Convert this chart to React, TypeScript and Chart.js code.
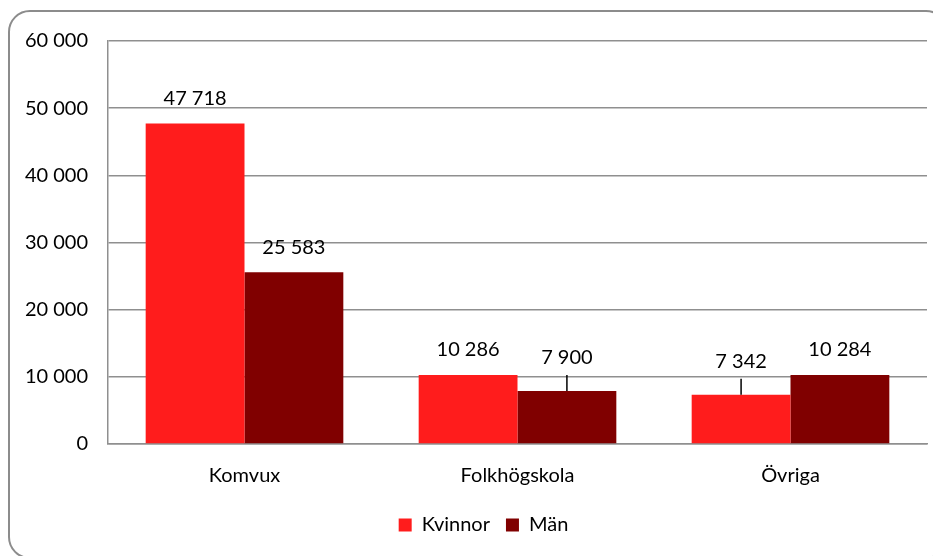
import React, { useEffect, useRef } from "react";
import { Chart, registerables } from "chart.js";

Chart.register(...registerables);

const categories = ["Komvux", "Folkhögskola", "Övriga"];
const seriesNames = ["Kvinnor", "Män"];
const kvinnor = [47718, 10286, 7342];
const man = [25583, 7900, 10284];
const yTickValues = [0, 10000, 20000, 30000, 40000, 50000, 60000];
const seriesColors = ["#FF1C1C", "#800000"];

const fmt = (v: number) => String(Math.round(v)).replace(/\B(?=(\d{3})+(?!\d))/g, " ");

const FONT = "Lato, 'Liberation Sans', sans-serif";
const FS = 20;
const GRID = "#8f8f8f";

const dataLabelPlugin = {
  id: "dataLabels",
  afterDatasetsDraw(chart: any, _args: any, opts: any) {
    const ctx = chart.ctx;
    const leaders: { dataset: number; index: number; lift: number }[] = opts.leaders || [];
    ctx.save();
    ctx.font = `${FS}px ${FONT}`;
    ctx.fillStyle = "#000";
    ctx.textAlign = "center";
    ctx.textBaseline = "middle";
    chart.data.datasets.forEach((ds: any, di: number) => {
      const meta = chart.getDatasetMeta(di);
      meta.data.forEach((el: any, i: number) => {
        const val = ds.data[i];
        const top = el.y;
        const leader = leaders.find((l) => l.dataset === di && l.index === i);
        let cy = top - 25;
        if (leader) {
          cy = top - 25 - leader.lift;
          ctx.strokeStyle = "#000";
          ctx.lineWidth = 1.5;
          ctx.beginPath();
          ctx.moveTo(el.x, cy + 17);
          ctx.lineTo(el.x, top);
          ctx.stroke();
        }
        ctx.fillText(fmt(val), el.x, cy);
      });
    });
    ctx.restore();
  },
};

const legendShiftPlugin = {
  id: "legendShift",
  afterLayout(chart: any, _args: any, opts: any) {
    const lg = chart.legend;
    if (lg) {
      lg.left += opts.dx || 0;
      lg.right += opts.dx || 0;
    }
  },
};

export default function App() {
  const ref = useRef<HTMLCanvasElement | null>(null);

  useEffect(() => {
    if (!ref.current) return;
    const chart = new Chart(ref.current, {
      type: "bar",
      data: {
        labels: categories,
        datasets: [
          {
            label: seriesNames[0],
            data: kvinnor,
            backgroundColor: seriesColors[0],
            borderWidth: 0,
            categoryPercentage: 0.724,
            barPercentage: 1,
          },
          {
            label: seriesNames[1],
            data: man,
            backgroundColor: seriesColors[1],
            borderWidth: 0,
            categoryPercentage: 0.724,
            barPercentage: 1,
          },
        ],
      },
      options: {
        responsive: false,
        animation: false,
        layout: { padding: { top: 33, right: 14, bottom: 11, left: 0 } },
        scales: {
          x: {
            grid: { display: false, drawTicks: false },
            border: { display: true, color: GRID, width: 1.5 },
            ticks: { color: "#000", font: { family: FONT, size: FS }, padding: 20 },
            afterFit: (s: any) => {
              s.height = 55;
            },
          },
          y: {
            min: 0,
            max: 60000,
            afterBuildTicks: (s: any) => {
              s.ticks = yTickValues.map((v) => ({ value: v }));
            },
            grid: { color: GRID, lineWidth: 1.5, drawTicks: false },
            border: { display: true, color: GRID, width: 1.5 },
            ticks: {
              color: "#000",
              font: { family: FONT, size: FS },
              padding: 20,
              callback: (v: any) => fmt(Number(v)),
            },
            afterFit: (s: any) => {
              s.width = 100;
            },
          },
        },
        plugins: {
          legend: {
            position: "bottom",
            labels: {
              color: "#000",
              font: { family: FONT, size: FS },
              boxWidth: 13,
              boxHeight: 13,
              padding: 16,
            },
          },
          tooltip: { enabled: false },
          title: { display: false },
          legendShift: { dx: 16 },
          dataLabels: {
            leaders: [
              { dataset: 1, index: 1, lift: 8 },
              { dataset: 0, index: 2, lift: 8 },
            ],
          },
        } as any,
      },
      plugins: [dataLabelPlugin, legendShiftPlugin],
    });
    return () => chart.destroy();
  }, []);

  return (
    <div style={{ position: "relative", width: 933, height: 548, overflow: "hidden" }}>
      <div
        style={{
          position: "absolute",
          left: 0,
          top: 2,
          width: 940,
          height: 549,
          border: "2px solid #8c8c8c",
          borderRadius: 22,
          boxSizing: "border-box",
        }}
      />
      <canvas ref={ref} width={933} height={548} style={{ position: "absolute", left: 0, top: 0 }} />
    </div>
  );
}
